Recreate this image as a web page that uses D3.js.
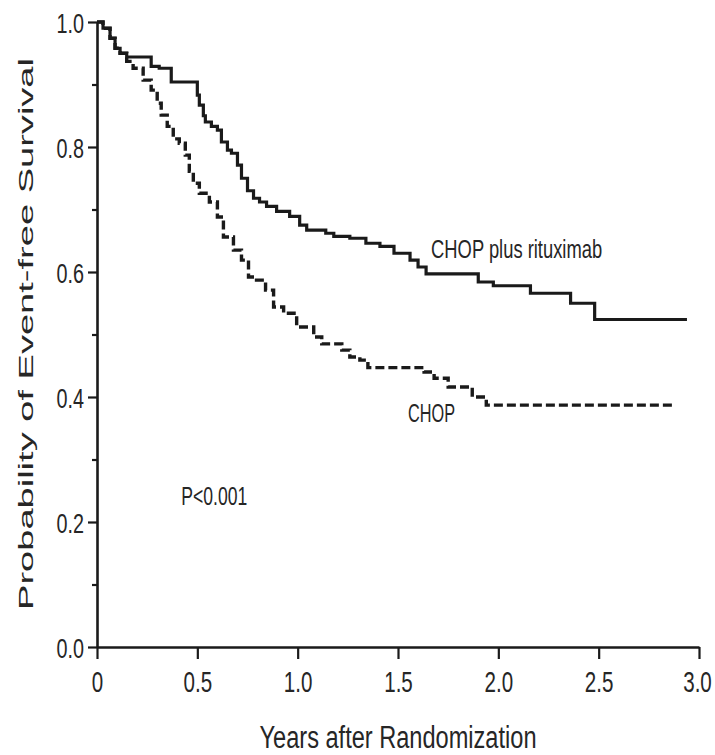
<!DOCTYPE html>
<html lang="en">
<head>
  <meta charset="utf-8">
  <title>Event-free Survival</title>
  <script src="https://d3js.org/d3.v7.min.js"></script>
  <style>
    body { margin: 0; background: #fff; }
    svg { display: block; }
  </style>
</head>
<body>

<svg width="715" height="755"></svg>

<script>
  // Kaplan-Meier steps (years, probability)
  const rchopTimes = [0, 0.03, 0.065, 0.09, 0.115, 0.148, 0.27, 0.31, 0.37, 0.50, 0.51, 0.53, 0.54, 0.57, 0.60,
    0.62, 0.65, 0.67, 0.70, 0.72, 0.75, 0.78, 0.81, 0.845, 0.895, 0.96, 1.01, 1.045, 1.14, 1.18, 1.26, 1.34,
    1.41, 1.48, 1.56, 1.60, 1.64, 1.90, 1.975, 2.16, 2.36, 2.48, 2.94];
  const rchopSurv = [1.0, 0.990, 0.974, 0.958, 0.950, 0.944, 0.929, 0.926, 0.904, 0.883, 0.867, 0.850, 0.840, 0.833, 0.827,
    0.808, 0.795, 0.790, 0.771, 0.750, 0.730, 0.718, 0.712, 0.705, 0.697, 0.689, 0.675, 0.667, 0.662, 0.657, 0.654, 0.646,
    0.641, 0.630, 0.619, 0.608, 0.597, 0.584, 0.578, 0.566, 0.550, 0.524, 0.524];

  const chopTimes = [0, 0.03, 0.065, 0.09, 0.115, 0.148, 0.18, 0.23, 0.27, 0.30, 0.32, 0.35, 0.38, 0.41, 0.44, 0.46,
    0.48, 0.51, 0.56, 0.60, 0.63, 0.68, 0.72, 0.755, 0.795, 0.84, 0.88, 0.93, 0.995, 1.08, 1.12, 1.22, 1.26, 1.31,
    1.35, 1.63, 1.68, 1.75, 1.87, 1.94, 2.88];
  const chopSurv = [1.0, 0.990, 0.974, 0.958, 0.950, 0.937, 0.926, 0.907, 0.891, 0.870, 0.851, 0.833, 0.813, 0.806, 0.787, 0.761,
    0.742, 0.726, 0.712, 0.688, 0.656, 0.635, 0.619, 0.592, 0.587, 0.571, 0.544, 0.534, 0.512, 0.496, 0.485, 0.475, 0.464, 0.459,
    0.447, 0.440, 0.430, 0.416, 0.400, 0.387, 0.387];

  const xTicks = [0, 0.5, 1.0, 1.5, 2.0, 2.5, 3.0];
  const yTicks = [0, 0.2, 0.4, 0.6, 0.8, 1.0];
  const yMinorTicks = [0.1, 0.3, 0.5, 0.7, 0.9];

  const svg = d3.select("svg");
  const ink = "#1a1a1a";
  const textInk = "#262626";
  const sans = "'Liberation Sans', Arial, Helvetica, sans-serif";

  const x = d3.scaleLinear().domain([0, 3]).range([97, 699]);
  const y = d3.scaleLinear().domain([0, 1]).range([647, 22]);

  // the figure's type is squashed sideways, so pin each label's width
  const tickWidth = s => s.split("").reduce((w, c) => w + (c === "." ? 5.5 : 11), 0);
  function squeeze(sel) {
    sel.attr("textLength", function () { return tickWidth(this.textContent); })
      .attr("lengthAdjust", "spacingAndGlyphs");
  }

  // Y axis
  const gy = svg.append("g").attr("transform", `translate(${x(0)},0)`)
    .call(d3.axisLeft(y).tickValues(yTicks).tickSize(9).tickSizeOuter(0).tickPadding(4)
      .tickFormat(d3.format(".1f")));
  const gyMinor = svg.append("g").attr("transform", `translate(${x(0)},0)`)
    .call(d3.axisLeft(y).tickValues(yMinorTicks).tickSize(5).tickFormat(""));
  gyMinor.select(".domain").remove();

  // X axis
  const gx = svg.append("g").attr("transform", `translate(0,${y(0)})`)
    .call(d3.axisBottom(x).tickValues(xTicks).tickSize(12).tickSizeOuter(0)
      .tickFormat(d => d === 0 ? "0" : d3.format(".1f")(d)));

  [gy, gyMinor, gx].forEach(g => {
    g.select(".domain").attr("stroke", ink).attr("stroke-width", 2.6);
    g.selectAll(".tick line").attr("stroke", ink).attr("stroke-width", 2.2);
  });

  gy.selectAll(".tick text")
    .attr("font-family", sans).attr("font-size", 28).attr("fill", textInk)
    .attr("dy", "0.37em");
  squeeze(gy.selectAll(".tick text"));

  // x labels: narrowed with a transform so their boxes stay true
  gx.selectAll(".tick text")
    .attr("font-family", sans).attr("font-size", 29).attr("fill", textInk)
    .attr("y", 0).attr("dy", null)
    .attr("transform", d => `translate(${d === 3 ? -2 : 0},45) scale(0.71,1)`);

  // Curves
  const line = d3.line()
    .x(d => x(d[0]))
    .y(d => y(d[1]))
    .curve(d3.curveStepAfter);

  svg.append("path")
    .datum(d3.zip(chopTimes, chopSurv))
    .attr("d", line)
    .attr("fill", "none")
    .attr("stroke", ink)
    .attr("stroke-width", 3.4)
    .attr("stroke-dasharray", "9,4");

  svg.append("path")
    .datum(d3.zip(rchopTimes, rchopSurv))
    .attr("d", line)
    .attr("fill", "none")
    .attr("stroke", ink)
    .attr("stroke-width", 3.2);

  // Labels
  const label = (t, p, txt, len) => svg.append("text")
    .attr("x", x(t)).attr("y", y(p))
    .attr("font-family", sans).attr("font-size", 25).attr("fill", textInk)
    .attr("textLength", len).attr("lengthAdjust", "spacingAndGlyphs")
    .text(txt);

  label(1.665, 0.622, "CHOP plus rituximab", 171);
  label(1.55, 0.360, "CHOP", 47);
  label(0.42, 0.227, "P<0.001", 66);

  // Axis titles
  svg.append("text")
    .attr("x", 398).attr("y", 748)
    .attr("text-anchor", "middle")
    .attr("font-family", sans).attr("font-size", 31).attr("fill", textInk)
    .attr("textLength", 277).attr("lengthAdjust", "spacingAndGlyphs")
    .text("Years after Randomization");

  svg.append("text")
    .attr("transform", "translate(33,334) rotate(-90)")
    .attr("text-anchor", "middle")
    .attr("font-family", sans)
    .attr("font-size", 21).attr("fill", textInk)
    .attr("textLength", 552).attr("lengthAdjust", "spacingAndGlyphs")
    .text("Probability of Event-free Survival");
</script>
</body>
</html>
